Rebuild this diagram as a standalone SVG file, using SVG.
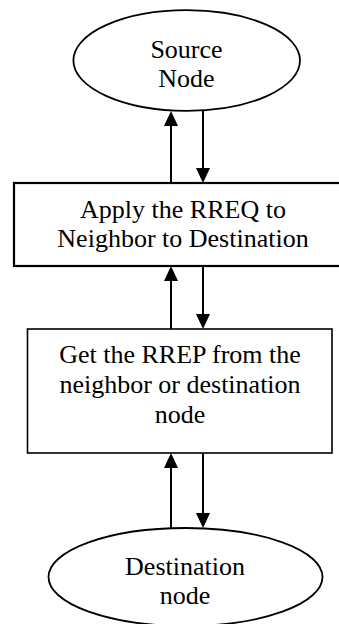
<svg xmlns="http://www.w3.org/2000/svg" width="339" height="624" viewBox="0 0 339 624">
<style>
.shape{fill:#fff;stroke:#000;stroke-width:1.8}
.lbl{font-family:"Liberation Serif","Times New Roman",serif;font-size:26px;fill:#000;text-anchor:middle}
.conn{stroke:#000;stroke-width:2;fill:none;marker-end:url(#ah)}
</style>
<defs>
<marker id="ah" markerUnits="userSpaceOnUse" markerWidth="15" markerHeight="14" refX="11" refY="7" orient="auto">
<path d="M0,0 L15,7 L0,14 Z" fill="#000"/>
</marker>
</defs>
<rect width="339" height="624" fill="#fff"/>
<g id="source">
<ellipse class="shape" cx="186.7" cy="60.5" rx="113.3" ry="50.3"/>
<text class="lbl" x="186.5" y="58">Source</text>
<text class="lbl" x="186.5" y="87">Node</text>
</g>
<g id="apply">
<rect class="shape" x="14" y="183" width="340" height="83" style="stroke-width:2.2"/>
<text class="lbl" x="183" y="218">Apply the RREQ to</text>
<text class="lbl" x="183" y="247">Neighbor to Destination</text>
</g>
<g id="get">
<rect class="shape" x="27.5" y="329" width="304.5" height="124" style="stroke-width:1.6"/>
<text class="lbl" x="180" y="363">Get the RREP from the</text>
<text class="lbl" x="180" y="393">neighbor or destination</text>
<text class="lbl" x="180" y="423">node</text>
</g>
<g id="destination">
<ellipse class="shape" cx="185.5" cy="577" rx="137" ry="49"/>
<text class="lbl" x="185" y="575">Destination</text>
<text class="lbl" x="185" y="604">node</text>
</g>
<g id="connectors">
<line class="conn" x1="171" y1="183" x2="171" y2="115"/>
<line class="conn" x1="203" y1="111" x2="203" y2="179"/>
<line class="conn" x1="171" y1="329" x2="171" y2="270"/>
<line class="conn" x1="203" y1="266" x2="203" y2="325"/>
<line class="conn" x1="171" y1="528" x2="171" y2="457"/>
<line class="conn" x1="203" y1="453" x2="203" y2="524"/>
</g>
</svg>
